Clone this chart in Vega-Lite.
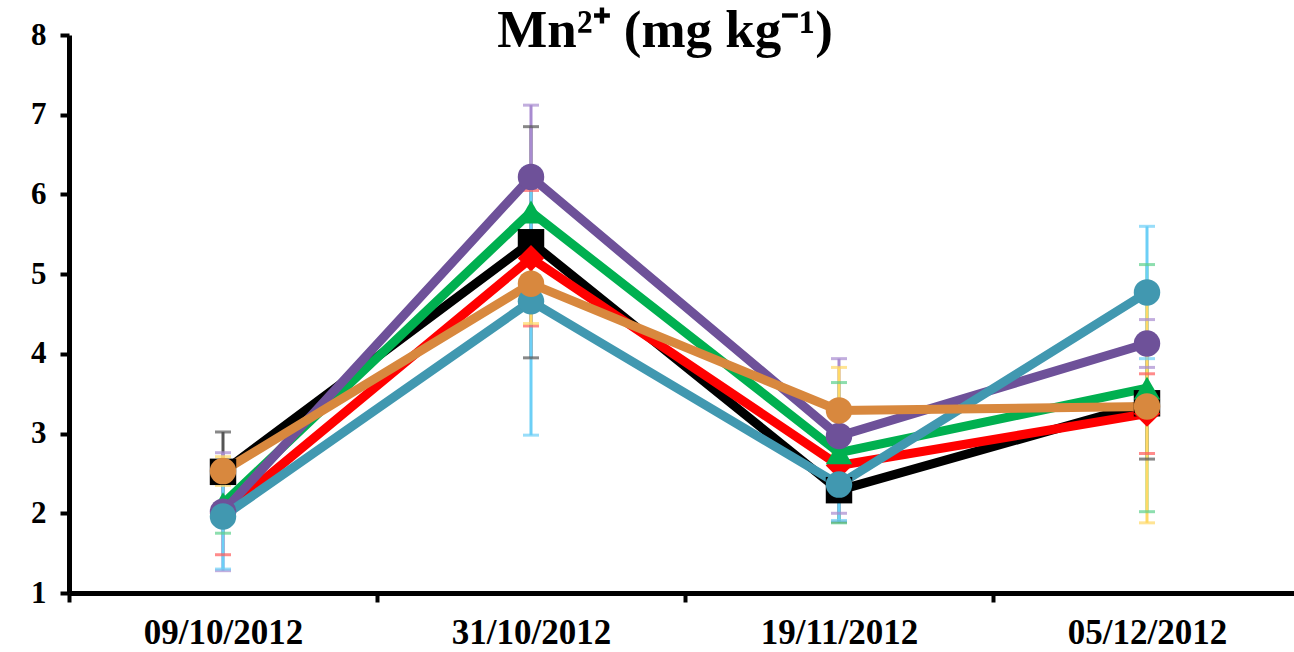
{
  "$schema": "https://vega.github.io/schema/vega-lite/v6.json",
  "width": 1232,
  "height": 558,
  "autosize": "none",
  "padding": {"left": 69, "top": 35, "right": 0, "bottom": 59},
  "background": "white",
  "config": {"view": {"stroke": null}, "font": "Liberation Serif"},
  "title": {
    "text": "Mn²⁺  (mg kg⁻¹)",
    "font": "Liberation Serif",
    "fontSize": 53,
    "fontWeight": "bold",
    "color": "black",
    "anchor": "middle",
    "baseline": "alphabetic",
    "offset": -20,
    "dx": -20,
    "dy": 61
  },
  "data": {
    "values": [
      {"date": "09/10/2012", "series": "A", "mean": 2.52, "lo": 2.02, "hi": 3.02},
      {"date": "31/10/2012", "series": "A", "mean": 5.40, "lo": 3.95, "hi": 6.85},
      {"date": "19/11/2012", "series": "A", "mean": 2.29, "lo": 1.89, "hi": 2.69},
      {"date": "05/12/2012", "series": "A", "mean": 3.38, "lo": 2.68, "hi": 4.08},
      {"date": "09/10/2012", "series": "B", "mean": 2.00, "lo": 1.48, "hi": 2.52},
      {"date": "31/10/2012", "series": "B", "mean": 5.20, "lo": 4.35, "hi": 6.05},
      {"date": "19/11/2012", "series": "B", "mean": 2.60, "lo": 2.30, "hi": 2.90},
      {"date": "05/12/2012", "series": "B", "mean": 3.25, "lo": 2.75, "hi": 3.75},
      {"date": "09/10/2012", "series": "C", "mean": 2.12, "lo": 1.75, "hi": 2.49},
      {"date": "31/10/2012", "series": "C", "mean": 5.78, "lo": 5.38, "hi": 6.18},
      {"date": "19/11/2012", "series": "C", "mean": 2.76, "lo": 1.88, "hi": 3.64},
      {"date": "05/12/2012", "series": "C", "mean": 3.57, "lo": 2.02, "hi": 5.12},
      {"date": "09/10/2012", "series": "D", "mean": 2.02, "lo": 1.28, "hi": 2.76},
      {"date": "31/10/2012", "series": "D", "mean": 6.22, "lo": 5.30, "hi": 7.12},
      {"date": "19/11/2012", "series": "D", "mean": 2.97, "lo": 2.00, "hi": 3.94},
      {"date": "05/12/2012", "series": "D", "mean": 4.13, "lo": 3.83, "hi": 4.43},
      {"date": "09/10/2012", "series": "E", "mean": 1.96, "lo": 1.30, "hi": 2.62},
      {"date": "31/10/2012", "series": "E", "mean": 4.66, "lo": 2.98, "hi": 6.34},
      {"date": "19/11/2012", "series": "E", "mean": 2.36, "lo": 1.91, "hi": 2.81},
      {"date": "05/12/2012", "series": "E", "mean": 4.77, "lo": 3.94, "hi": 5.60},
      {"date": "09/10/2012", "series": "F", "mean": 2.53, "lo": 2.35, "hi": 2.71},
      {"date": "31/10/2012", "series": "F", "mean": 4.88, "lo": 4.38, "hi": 5.38},
      {"date": "19/11/2012", "series": "F", "mean": 3.29, "lo": 2.75, "hi": 3.83},
      {"date": "05/12/2012", "series": "F", "mean": 3.34, "lo": 1.88, "hi": 4.80}
    ]
  },
  "encoding": {
    "x": {
      "field": "date",
      "type": "nominal",
      "sort": ["09/10/2012", "31/10/2012", "19/11/2012", "05/12/2012"],
      "scale": {"paddingInner": 0, "paddingOuter": 0},
      "axis": {
        "title": null,
        "labelAngle": 0,
        "labelFont": "Liberation Serif",
        "labelFontWeight": "bold",
        "labelFontSize": 35,
        "labelColor": "black",
        "labelPadding": 13,
        "domainColor": "black",
        "domainWidth": 5,
        "tickColor": "black",
        "tickWidth": 4,
        "tickSize": 9,
        "tickBand": "extent"
      }
    }
  },
  "layer": [
    {
      "mark": {"type": "rule", "strokeWidth": 3},
      "encoding": {
        "y": {"field": "lo", "type": "quantitative"},
        "y2": {"field": "hi"},
        "color": {"field": "series", "type": "nominal", "legend": null,
          "scale": {"domain": ["A", "B", "C", "D", "E", "F"], "range": ["#555555", "#ff5a5a", "#5cd08c", "#a88bd0", "#6ccff6", "#ffd966"]}}
      }
    },
    {
      "mark": {"type": "tick", "thickness": 3, "size": 16, "orient": "horizontal"},
      "encoding": {
        "y": {"field": "lo", "type": "quantitative"},
        "color": {"field": "series", "type": "nominal", "legend": null,
          "scale": {"domain": ["A", "B", "C", "D", "E", "F"], "range": ["#555555", "#ff5a5a", "#5cd08c", "#a88bd0", "#6ccff6", "#ffd966"]}}
      }
    },
    {
      "mark": {"type": "tick", "thickness": 3, "size": 16, "orient": "horizontal"},
      "encoding": {
        "y": {"field": "hi", "type": "quantitative"},
        "color": {"field": "series", "type": "nominal", "legend": null,
          "scale": {"domain": ["A", "B", "C", "D", "E", "F"], "range": ["#555555", "#ff5a5a", "#5cd08c", "#a88bd0", "#6ccff6", "#ffd966"]}}
      }
    },
    {
      "mark": {"type": "line", "strokeWidth": 9},
      "encoding": {
        "y": {"field": "mean", "type": "quantitative"},
        "color": {"field": "series", "type": "nominal", "legend": null,
          "scale": {"domain": ["A", "B", "C", "D", "E", "F"], "range": ["#000000", "#ff0000", "#00b050", "#6e5199", "#4198b0", "#d8883e"]}}
      }
    },
    {
      "mark": {"type": "point", "filled": true, "opacity": 1, "size": 700},
      "encoding": {
        "y": {
          "field": "mean",
          "type": "quantitative",
          "scale": {"domain": [1, 8], "nice": false, "zero": false},
          "axis": {
            "title": null,
            "values": [1, 2, 3, 4, 5, 6, 7, 8],
            "format": "d",
            "grid": false,
            "labelFont": "Liberation Serif",
            "labelFontWeight": "bold",
            "labelFontSize": 31,
            "labelColor": "black",
            "labelPadding": 14,
            "domainColor": "black",
            "domainWidth": 5,
            "tickColor": "black",
            "tickWidth": 4,
            "tickSize": 9
          }
        },
        "shape": {"field": "series", "type": "nominal", "legend": null,
          "scale": {"domain": ["A", "B", "C", "D", "E", "F"], "range": ["square", "diamond", "triangle-up", "circle", "circle", "circle"]}},
        "color": {"field": "series", "type": "nominal", "legend": null,
          "scale": {"domain": ["A", "B", "C", "D", "E", "F"], "range": ["#000000", "#ff0000", "#00b050", "#6e5199", "#4198b0", "#d8883e"]}}
      }
    }
  ],
  "resolve": {"scale": {"color": "independent"}}
}
